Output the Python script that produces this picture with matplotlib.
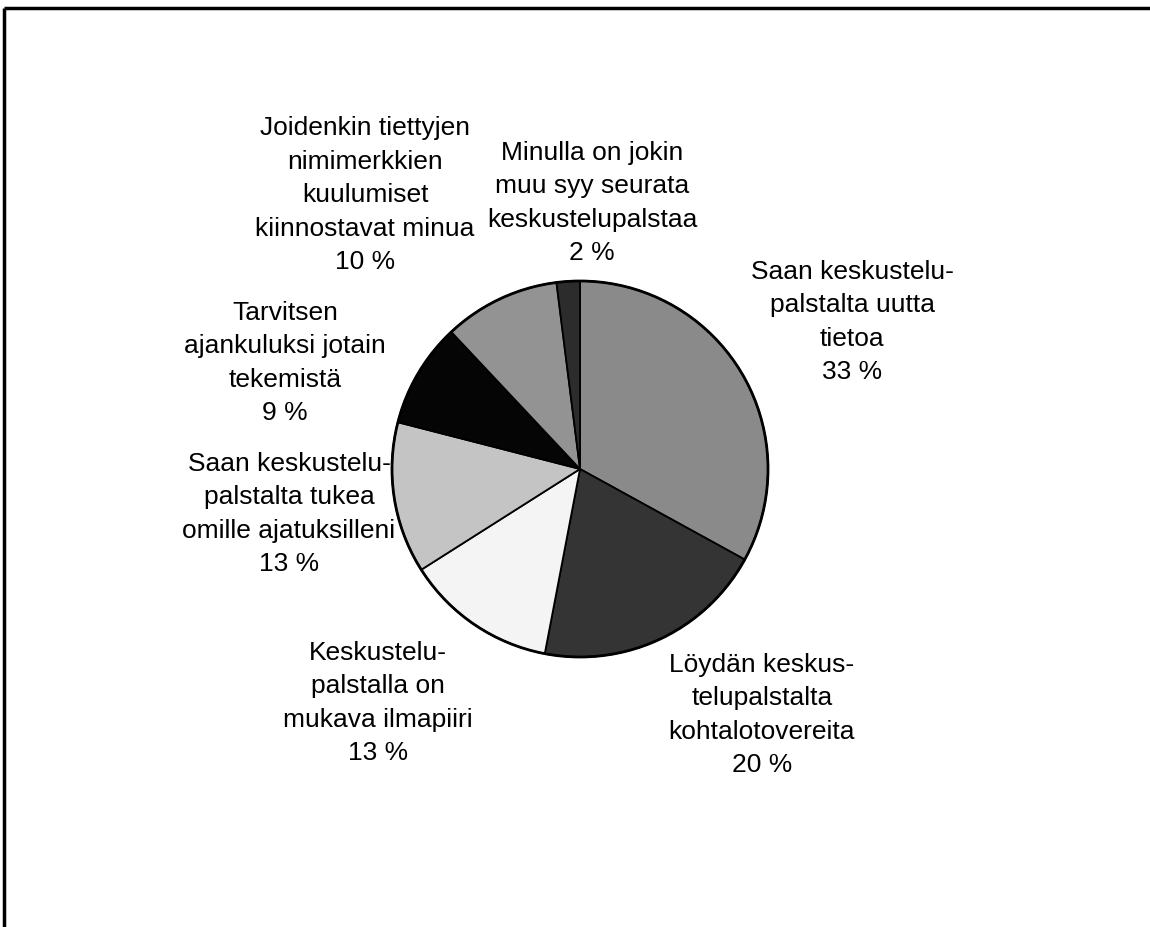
import matplotlib
matplotlib.use("Agg")
import matplotlib.pyplot as plt

labels = [
    "Saan keskustelu-\npalstalta uutta\ntietoa",
    "Löydän keskus-\ntelupalstalta\nkohtalotovereita",
    "Keskustelu-\npalstalla on\nmukava ilmapiiri",
    "Saan keskustelu-\npalstalta tukea\nomille ajatuksilleni",
    "Tarvitsen\najankuluksi jotain\ntekemistä",
    "Joidenkin tiettyjen\nnimimerkkien\nkuulumiset\nkiinnostavat minua",
    "Minulla on jokin\nmuu syy seurata\nkeskustelupalstaa",
]
values = [33, 20, 13, 13, 9, 10, 2]
colors = ["#8a8a8a", "#343434", "#f4f4f4", "#c4c4c4", "#050505", "#939393", "#2c2c2c"]

W, H = 1150, 927
# label centre positions (pixels from top-left)
label_pos = [(852, 322), (762, 715), (378, 703), (289, 514), (285, 363), (365, 195), (592, 203)]
pie_center = (580, 469)

fig = plt.figure(figsize=(W / 100, H / 100), dpi=100)
ax = fig.add_axes([0, 0, 1, 1])

cx, cy = pie_center[0], H - pie_center[1]
wedges, _ = ax.pie(values, colors=colors, startangle=90, counterclock=False,
                   center=(cx, cy), radius=188,
                   wedgeprops=dict(edgecolor="black", linewidth=1.3))
circle = plt.Circle((cx, cy), 188, fill=False, edgecolor="black", linewidth=2.0)
ax.add_patch(circle)

for lab, v, (x, y) in zip(labels, values, label_pos):
    ax.text(x, H - y, f"{lab}\n{v} %", ha="center", va="center", fontsize=19,
            family="Liberation Sans", linespacing=1.5, color="black")

# frame lines (top and left)
ax.plot([4, W], [H - 8, H - 8], color="black", linewidth=2.5, solid_capstyle="butt")
ax.plot([4, 4], [H - 8, 0], color="black", linewidth=2.5, solid_capstyle="butt")

ax.set_xlim(0, W)
ax.set_ylim(0, H)
ax.set_aspect("equal")
ax.axis("off")
fig.savefig("out.png", dpi=100, facecolor="white")
